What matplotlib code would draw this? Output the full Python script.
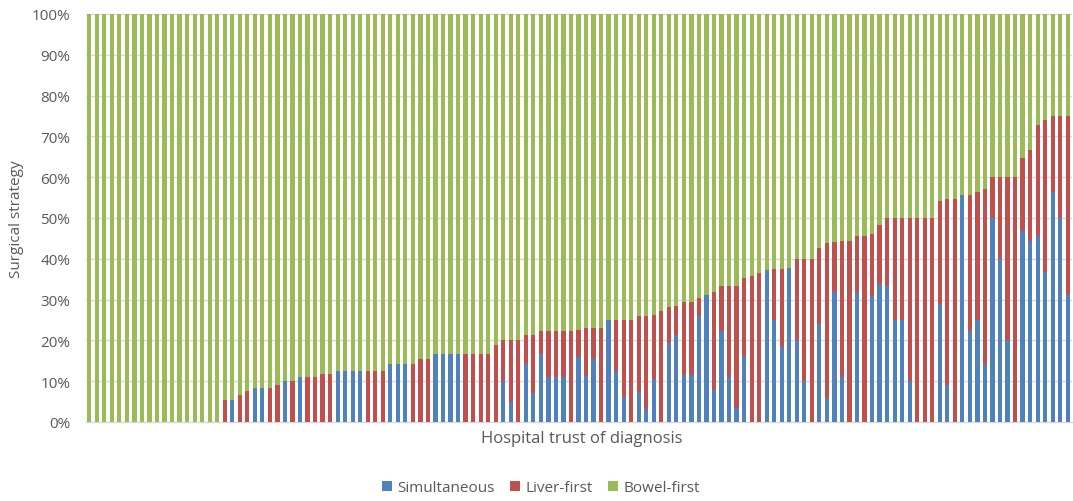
import matplotlib
matplotlib.use('Agg')
import matplotlib.pyplot as plt
import numpy as np
from matplotlib.patches import Patch

# total of (simultaneous + liver-first) per trust, and simultaneous share (%)
total = [0]*18 + [
    5.3, 5.3, 6.7, 7.7, 8.3, 8.3, 8.3, 9.1, 10, 10,
    11.1, 11.1, 11.1, 11.8, 11.8, 12.5, 12.5, 12.5, 12.5, 12.5,
    12.5, 12.5, 14.3, 14.3, 14.3, 14.3, 15.4, 15.4, 16.7, 16.7,
    16.7, 16.7, 16.7, 16.7, 16.7, 16.7, 18.9, 20, 20, 20,
    21.4, 21.4, 22.2, 22.2, 22.2, 22.2, 22.2, 22.6, 23.0, 23.1,
    23.1, 25, 25, 25, 25, 26.1, 26.1, 26.2, 27.3, 28.1,
    28.4, 29.4, 29.4, 30.5, 31.2, 31.9, 33.3, 33.3, 33.3, 35.4,
    35.8, 36.4, 37.2, 37.5, 37.5, 37.8, 40, 40, 40, 42.7,
    43.8, 44.1, 44.4, 44.4, 45.6, 45.6, 46.2, 48.3, 50, 50,
    50, 50, 50, 50, 50, 54.2, 54.7, 54.7, 55.6, 55.6,
    56.3, 57.1, 60, 60, 60, 60, 64.7, 66.7, 72.9, 73.9,
    75, 75, 75]
simultaneous = [0]*18 + [
    0, 5.3, 0, 0, 8.3, 8.3, 0, 0, 10, 0,
    11.1, 0, 0, 0, 0, 12.5, 12.5, 12.5, 12.5, 0,
    0, 0, 14.3, 14.3, 14.3, 0, 0, 0, 16.7, 16.7,
    16.7, 16.7, 0, 0, 0, 0, 0, 10, 5, 0,
    14.3, 7.1, 16.7, 11.1, 11.1, 11.1, 0, 16.0, 11.3, 15.4,
    0, 25, 12.5, 6.25, 0, 7.3, 3.3, 10.5, 0, 19.3,
    21.4, 11.5, 11.5, 26.1, 31.2, 7.8, 22.2, 11.1, 3.5, 16.1,
    0, 0, 37.2, 25, 18.5, 37.8, 20, 10, 0, 23.9,
    6.0, 31.8, 11.1, 0, 31.8, 0, 30.8, 33.9, 33.3, 25,
    25, 10, 0, 0, 0, 28.9, 9.1, 0, 55.6, 22.2,
    25, 14.3, 50, 40, 20, 0, 46.9, 44.4, 45.5, 36.7,
    56.3, 50, 31.1]

series_names = ["Simultaneous", "Liver-first", "Bowel-first"]
colors = ["#4F81BD", "#C0504D", "#9BBB59"]

sim = np.array(simultaneous, dtype=float)
tot = np.array(total, dtype=float)
liver = tot - sim
bowel = 100 - tot
n = len(sim)
x = np.arange(n)

plt.rcParams['font.family'] = ['Open Sans', 'DejaVu Sans']
txt = '#595959'

fig = plt.figure(figsize=(10.73, 5.02), dpi=100)
ax = fig.add_axes([85.5/1073, 79/502, 986/1073, 408/502])
w = 0.56
ax.bar(x, sim, width=w, color=colors[0], linewidth=0, zorder=3)
ax.bar(x, liver, bottom=sim, width=w, color=colors[1], linewidth=0, zorder=3)
ax.bar(x, bowel, bottom=tot, width=w, color=colors[2], linewidth=0, zorder=3)

ax.set_xlim(-0.5, n - 0.5)
ax.set_ylim(0, 100)
yt = list(range(0, 101, 10))
ax.set_yticks(yt)
ax.set_yticklabels([f"{v}%" for v in yt])
ax.set_xticks([])
ax.yaxis.grid(True, color='#D9D9D9', linewidth=1.0, zorder=0)
ax.set_axisbelow(True)
for s in ['top', 'right', 'left']:
    ax.spines[s].set_visible(False)
ax.spines['bottom'].set_color('#D9D9D9')
ax.spines['bottom'].set_linewidth(1.0)
ax.tick_params(axis='y', length=0, pad=11, labelcolor=txt, labelsize=11)

fig.text(582/1073, 1 - 439/502, "Hospital trust of diagnosis", ha='center', va='center',
         color=txt, fontsize=12)
fig.text(17/1073, 1 - 219/502, "Surgical strategy", ha='center', va='center',
         rotation=90, color=txt, fontsize=11)

handles = [Patch(facecolor=c, edgecolor='none') for c in colors]
fig.legend(handles, series_names, loc='center', bbox_to_anchor=(541/1073, 1 - 489/502),
           ncol=3, frameon=False, fontsize=11, labelcolor=txt,
           handlelength=0.65, handleheight=0.65, handletextpad=0.35, columnspacing=1.0)

fig.savefig('out.png', dpi=100)
